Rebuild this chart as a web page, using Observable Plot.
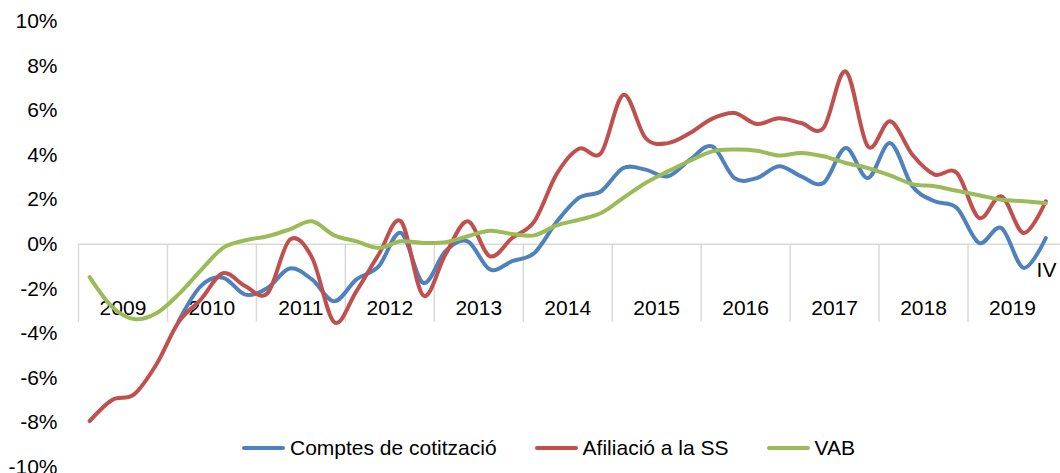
<!DOCTYPE html>
<html>
<head>
<meta charset="utf-8">
<script src="https://cdn.jsdelivr.net/npm/d3@7"></script>
<script src="https://cdn.jsdelivr.net/npm/@observablehq/plot@0.6"></script>
<style>
  html, body { margin: 0; padding: 0; background: #fff; overflow: hidden; }
  #wrap { position: relative; width: 1060px; height: 473px; font-family: "Liberation Sans", Arial, sans-serif; }
  #legend { position: absolute; left: 242px; top: 436px; display: flex; gap: 38px; font-size: 21px; color: #000; white-space: nowrap; }
  #legend .item { display: flex; align-items: center; }
  #legend .sw { width: 43px; height: 4px; border-radius: 2px; margin-right: 5px; }
</style>
</head>
<body>
<div id="wrap"><div id="legend"></div></div>
<script>
const years = [2009, 2010, 2011, 2012, 2013, 2014, 2015, 2016, 2017, 2018, 2019];
const quarterNames = ["I", "II", "III", "IV"];
const seriesNames = ["Comptes de cotització", "Afiliació a la SS", "VAB"];
const seriesColors = ["#4f81bd", "#c0504d", "#9bbb59"];

const comptes = [null, null, null, null, -3.45, -1.88, -1.5, -2.26, -1.96, -1.09,
  -1.58, -2.56, -1.58, -0.99, 0.51, -1.73, -0.31, 0.13, -1.13, -0.76,
  -0.39, 1.0, 2.08, 2.38, 3.42, 3.35, 3.05, 3.8, 4.39, 2.97,
  2.97, 3.5, 3.05, 2.75, 4.32, 2.97, 4.54, 2.6, 1.93, 1.63,
  0.06, 0.73, -1.06, 0.28];
const afiliacio = [-7.94, -7.0, -6.74, -5.4, -3.5, -2.48, -1.3, -1.88, -2.2, 0.2,
  -0.6, -3.5, -2.1, -0.46, 1.03, -2.3, -0.46, 1.03, -0.54, 0.28,
  1.03, 3.15, 4.29, 4.1, 6.71, 4.77, 4.54, 4.99, 5.64, 5.89,
  5.4, 5.66, 5.44, 5.22, 7.76, 4.39, 5.52, 4.02, 3.13, 3.2,
  1.18, 2.15, 0.51, 1.93];
const vab = [-1.48, -2.8, -3.36, -3.1, -2.25, -1.17, -0.16, 0.18, 0.36, 0.67,
  1.03, 0.4, 0.13, -0.16, 0.13, 0.06, 0.09, 0.36, 0.61, 0.46,
  0.4, 0.85, 1.1, 1.4, 2.08, 2.75, 3.27, 3.75, 4.17, 4.25,
  4.2, 3.98, 4.1, 3.95, 3.65, 3.42, 3.09, 2.7, 2.6, 2.4,
  2.2, 2.0, 1.93, 1.84];
const yTicks = [-10, -8, -6, -4, -2, 0, 2, 4, 6, 8, 10];
const annotation = [{ index: 42, label: "IV" }];

// categories: year + quarter
const categories = years.flatMap(y => quarterNames.map(q => `${y} ${q}`));
const allSeries = [comptes, afiliacio, vab];
const rows = allSeries.map((vals, s) =>
  vals.map((v, i) => ({ i, v, cat: categories[i], series: seriesNames[s] })));

const yearRows = years.map((y, k) => ({ year: String(y), mid: k * 4 + 1.5 }));
const bounds = years.map((y, k) => ({ b: k * 4 - 0.5 }));
const TICK_DEPTH = -3.5; // length of category separators below the axis

const font = '"Liberation Sans", Arial, sans-serif';

const chart = Plot.plot({
  width: 1060,
  height: 473,
  marginLeft: 78,
  marginRight: 0,
  marginTop: 21,
  marginBottom: 6.5,
  style: { fontFamily: font, fontSize: "21px", color: "#000", background: "transparent", overflow: "visible" },
  x: { domain: [-0.5, 43.66], axis: null },
  y: { domain: [-10, 10], axis: null },
  marks: [
    Plot.axisY({ ticks: yTicks, tickSize: 0, tickPadding: 21, tickFormat: d => d + "%", fontSize: 21, fill: "#000", label: null }),
    Plot.ruleY([0], { stroke: "#d9d9d9", strokeWidth: 1.5 }),
    Plot.ruleX(bounds, { x: "b", y1: 0, y2: TICK_DEPTH, stroke: "#d9d9d9", strokeWidth: 1.5 }),
    Plot.text(yearRows, { x: "mid", y: 0, text: "year", dy: 64, fontSize: 21, fill: "#000" }),
    ...rows.map((r, s) => Plot.line(r, {
      x: "i", y: "v", stroke: seriesColors[s], strokeWidth: 4,
      curve: "cardinal", tension: 0, defined: d => d.v != null
    })),
    Plot.text(annotation, { x: "index", y: d => comptes[d.index], text: "label", dx: 13, dy: 2, textAnchor: "start", fontSize: 21, fill: "#000" })
  ]
});

const wrap = document.getElementById("wrap");
wrap.insertBefore(chart, wrap.firstChild);

const legend = document.getElementById("legend");
seriesNames.forEach((name, s) => {
  const item = document.createElement("div");
  item.className = "item";
  const sw = document.createElement("span");
  sw.className = "sw";
  sw.style.background = seriesColors[s];
  const t = document.createElement("span");
  t.textContent = name;
  item.appendChild(sw);
  item.appendChild(t);
  legend.appendChild(item);
});
</script>
</body>
</html>
